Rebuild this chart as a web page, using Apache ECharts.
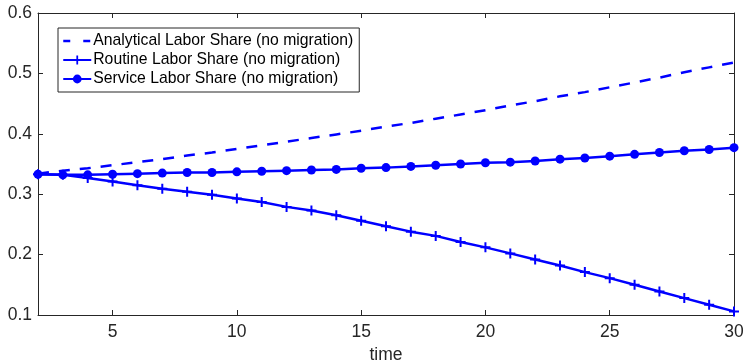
<!DOCTYPE html>
<html>
<head>
<meta charset="utf-8">
<script src="https://cdn.jsdelivr.net/npm/echarts@6/dist/echarts.min.js"></script>
<style>
  html, body { margin: 0; padding: 0; background: #fff; }
  #chart { width: 744px; height: 364px; }
</style>
</head>
<body>
<div id="chart"></div>
<script>
const timeSteps = [2, 3, 4, 5, 6, 7, 8, 9, 10, 11, 12, 13, 14, 15, 16, 17, 18, 19, 20, 21, 22, 23, 24, 25, 26, 27, 28, 29, 30];
const analytical = [0.334, 0.339, 0.343, 0.348, 0.353, 0.358, 0.364, 0.369, 0.375, 0.381, 0.387, 0.393, 0.399, 0.405, 0.412, 0.418, 0.425, 0.432, 0.439, 0.447, 0.454, 0.462, 0.469, 0.477, 0.485, 0.493, 0.502, 0.510, 0.518];
const routine = [0.333, 0.332, 0.327, 0.321, 0.315, 0.309, 0.304, 0.299, 0.293, 0.287, 0.279, 0.273, 0.265, 0.256, 0.247, 0.238, 0.231, 0.221, 0.212, 0.202, 0.192, 0.182, 0.171, 0.161, 0.150, 0.139, 0.128, 0.117, 0.106];
const service = [0.333, 0.332, 0.332, 0.333, 0.334, 0.335, 0.336, 0.336, 0.337, 0.338, 0.339, 0.340, 0.341, 0.343, 0.344, 0.346, 0.348, 0.350, 0.352, 0.353, 0.355, 0.358, 0.360, 0.363, 0.366, 0.369, 0.372, 0.374, 0.377];
const xTicks = [5, 10, 15, 20, 25, 30];
const seriesNames = ['Analytical Labor Share (no migration)', 'Routine Labor Share (no migration)', 'Service Labor Share (no migration)'];

const pairs = (vals) => timeSteps.map((t, i) => [t, vals[i]]);
const font = 'Liberation Sans, Arial, Helvetica, sans-serif';
const axisColor = '#262626';
const blue = '#0000ff';
const plusSymbol = 'path://M4,0H6V4H10V6H6V10H4V6H0V4H4Z';

const chart = echarts.init(document.getElementById('chart'), null, { renderer: 'canvas' });

const boxAxis = {
  axisLine: { show: true, lineStyle: { color: axisColor, width: 1 } },
  axisTick: { show: true, inside: true, length: 5, lineStyle: { color: axisColor } },
  splitLine: { show: false }
};

const option = {
  animation: false,
  backgroundColor: '#fff',
  textStyle: { fontFamily: font },
  grid: { left: 38, right: 10, top: 13, bottom: 49, containLabel: false, outerBoundsMode: 'none' },
  legend: {
    orient: 'vertical',
    left: 58,
    top: 28,
    backgroundColor: '#fff',
    borderColor: axisColor,
    borderWidth: 1,
    borderRadius: 0,
    padding: [5, 6, 5, 4],
    itemGap: 3,
    itemWidth: 28,
    itemHeight: 11,
    textStyle: { fontFamily: font, fontSize: 15.75, color: '#000', padding: [0, 0, 0, -3] },
    data: [
      { name: seriesNames[0], lineStyle: { type: [7, 13], width: 2.5 }, itemStyle: { opacity: 0 } },
      { name: seriesNames[1] },
      { name: seriesNames[2] }
    ]
  },
  xAxis: [
    Object.assign({}, boxAxis, {
      type: 'value', min: 2, max: 30, position: 'bottom',
      axisTick: Object.assign({}, boxAxis.axisTick, { customValues: xTicks }),
      axisLabel: { customValues: xTicks, color: axisColor, fontSize: 17.5, margin: 8, fontFamily: font },
      name: 'time', nameLocation: 'middle', nameGap: 30,
      nameTextStyle: { color: axisColor, fontSize: 17.5, fontFamily: font }
    }),
    Object.assign({}, boxAxis, {
      type: 'value', min: 2, max: 30, position: 'top',
      axisTick: Object.assign({}, boxAxis.axisTick, { customValues: xTicks }),
      axisLabel: { show: false }
    })
  ],
  yAxis: [
    Object.assign({}, boxAxis, {
      type: 'value', min: 0.1, max: 0.6, interval: 0.1, position: 'left',
      axisLabel: { color: axisColor, fontSize: 17.5, margin: 6, fontFamily: font, formatter: (v) => v.toFixed(1) }
    }),
    Object.assign({}, boxAxis, {
      type: 'value', min: 0.1, max: 0.6, interval: 0.1, position: 'right',
      axisLabel: { show: false }
    })
  ],
  series: [
    {
      name: seriesNames[0], type: 'line', data: pairs(analytical),
      showSymbol: false, symbol: 'none',
      lineStyle: { color: blue, width: 2.5, type: [11, 10] },
      itemStyle: { color: blue }
    },
    {
      name: seriesNames[1], type: 'line', data: pairs(routine),
      symbol: plusSymbol, symbolSize: 10, showAllSymbol: true,
      lineStyle: { color: blue, width: 2.5 },
      itemStyle: { color: blue }
    },
    {
      name: seriesNames[2], type: 'line', data: pairs(service),
      symbol: 'circle', symbolSize: 9, showAllSymbol: true,
      lineStyle: { color: blue, width: 2.5 },
      itemStyle: { color: blue }
    }
  ]
};

chart.setOption(option);
window.addEventListener('resize', chart.resize);
</script>
</body>
</html>
